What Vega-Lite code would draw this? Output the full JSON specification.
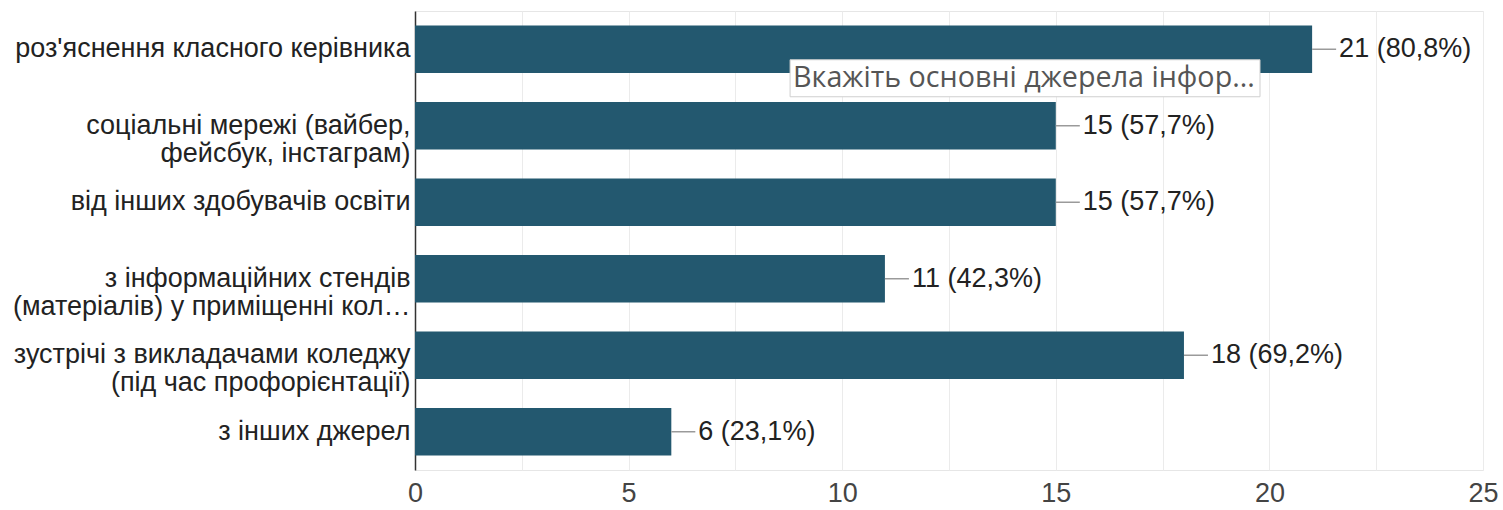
{
  "$schema": "https://vega.github.io/schema/vega-lite/v6.json",
  "autosize": "none",
  "width": 1068,
  "height": 459,
  "padding": {"left": 415, "top": 11, "right": 20, "bottom": 40},
  "background": "white",
  "config": {
    "view": {"stroke": "#e6e6e6", "strokeWidth": 1},
    "font": "Liberation Sans"
  },
  "datasets": {
    "bars": [
      {"category": "роз'яснення класного керівника", "count": 21, "label": "21 (80,8%)"},
      {"category": "соціальні мережі (вайбер,|фейсбук, інстаграм)", "count": 15, "label": "15 (57,7%)"},
      {"category": "від інших здобувачів освіти", "count": 15, "label": "15 (57,7%)"},
      {"category": "з інформаційних стендів|(матеріалів) у приміщенні кол…", "count": 11, "label": "11 (42,3%)"},
      {"category": "зустрічі з викладачами коледжу|(під час профорієнтації)", "count": 18, "label": "18 (69,2%)"},
      {"category": "з інших джерел", "count": 6, "label": "6 (23,1%)"}
    ],
    "tip": [
      {"category": "роз'яснення класного керівника", "start": 8.78, "end": 19.78, "text": "Вкажіть основні джерела інфор..."}
    ]
  },
  "layer": [
    {
      "data": {"name": "bars"},
      "mark": {"type": "bar", "color": "#23586f"},
      "encoding": {
        "y": {
          "field": "category", "type": "nominal", "sort": null,
          "scale": {"paddingInner": 0.38, "paddingOuter": 0.19},
          "axis": {
            "title": null,
            "labelExpr": "split(datum.label, '|')",
            "labelFontSize": 27,
            "labelColor": "#222222",
            "labelFont": "Liberation Sans",
            "labelLineHeight": 28,
            "labelPadding": 5,
            "labelLimit": 420,
            "ticks": false,
            "domain": true,
            "domainColor": "#333333",
            "domainWidth": 1.5
          }
        },
        "x": {
          "field": "count", "type": "quantitative",
          "scale": {"domain": [0, 25], "nice": false},
          "axis": {
            "title": null,
            "values": [0, 2.5, 5, 7.5, 10, 12.5, 15, 17.5, 20, 22.5, 25],
            "labelExpr": "datum.value % 5 === 0 ? datum.label : ''",
            "labelFontSize": 27,
            "labelColor": "#444444",
            "labelFont": "Liberation Sans",
            "labelPadding": 10,
            "labelFlush": false,
            "ticks": false,
            "domain": false,
            "gridColor": "#ebebeb",
            "gridWidth": 1
          }
        }
      }
    },
    {
      "data": {"name": "bars"},
      "mark": {"type": "rule", "color": "#9a9a9a", "strokeWidth": 1.5, "x2Offset": 24},
      "encoding": {
        "y": {"field": "category", "type": "nominal", "sort": null},
        "x": {"field": "count", "type": "quantitative"},
        "x2": {"field": "count"}
      }
    },
    {
      "data": {"name": "bars"},
      "mark": {"type": "text", "align": "left", "baseline": "middle", "dx": 27, "fontSize": 27, "color": "#222222", "font": "Liberation Sans"},
      "encoding": {
        "y": {"field": "category", "type": "nominal", "sort": null},
        "x": {"field": "count", "type": "quantitative"},
        "text": {"field": "label"}
      }
    },
    {
      "data": {"name": "tip"},
      "mark": {"type": "rect", "fill": "white", "stroke": "#cfcfcf", "strokeWidth": 1, "height": 37, "yOffset": 29},
      "encoding": {
        "y": {"field": "category", "type": "nominal", "sort": null},
        "x": {"field": "start", "type": "quantitative"},
        "x2": {"field": "end"}
      }
    },
    {
      "data": {"name": "tip"},
      "mark": {"type": "text", "align": "left", "baseline": "middle", "dx": 3, "yOffset": 29, "fontSize": 28.7, "color": "#555555", "font": "Open Sans"},
      "encoding": {
        "y": {"field": "category", "type": "nominal", "sort": null},
        "x": {"field": "start", "type": "quantitative"},
        "text": {"field": "text"}
      }
    }
  ]
}
